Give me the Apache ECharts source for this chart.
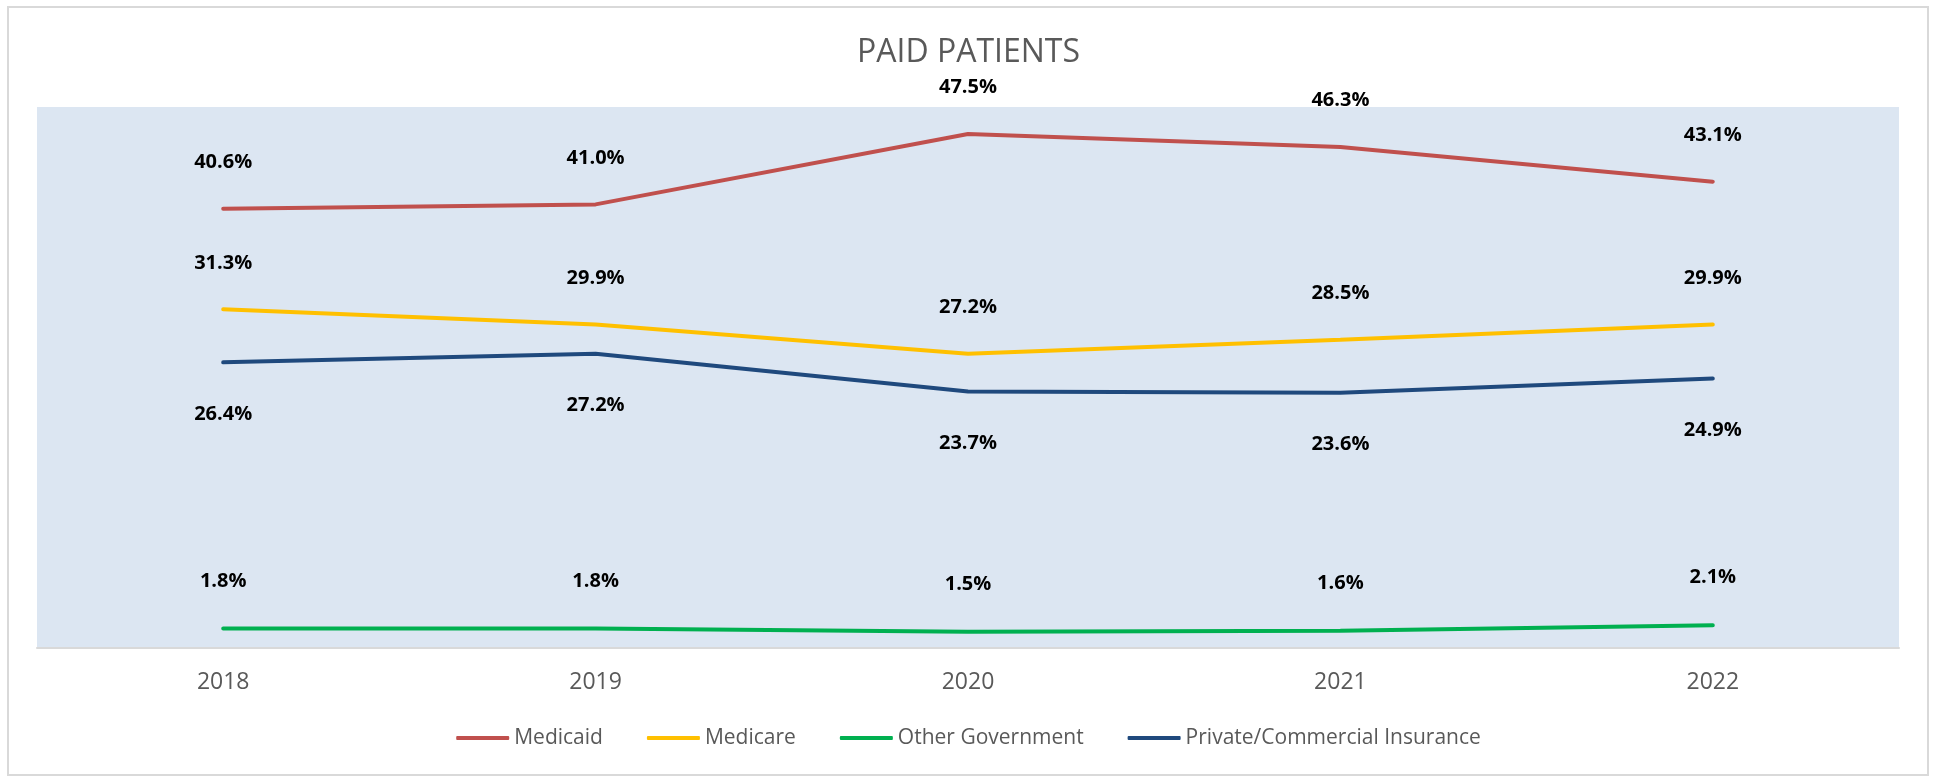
<!DOCTYPE html>
<html>
<head>
<meta charset="utf-8">
<script src="https://cdn.jsdelivr.net/npm/echarts@6/dist/echarts.min.js"></script>
<style>
  html, body { margin: 0; padding: 0; background: #fff; }
  #chart { width: 1937px; height: 777px; }
</style>
</head>
<body>
<div id="chart"></div>
<script>
const years = ["2018", "2019", "2020", "2021", "2022"];
const medicaid = [40.6, 41.0, 47.5, 46.3, 43.1];
const medicare = [31.3, 29.9, 27.2, 28.5, 29.9];
const otherGov = [1.8, 1.8, 1.5, 1.6, 2.1];
const privateIns = [26.4, 27.2, 23.7, 23.6, 24.9];

const font = "'Open Sans', 'Noto Sans', sans-serif";

const makeSeries = (name, data, color, labelPos, dist) => ({
  name: name,
  type: "line",
  data: data,
  symbol: "circle",
  symbolSize: 1,
  showSymbol: true,
  itemStyle: { color: color },
  lineStyle: { color: color, width: 4, cap: "round" },
  label: {
    show: true,
    position: labelPos,
    distance: dist,
    formatter: (p) => p.value.toFixed(1) + "%",
    color: "#000",
    fontFamily: font,
    fontWeight: "bold",
    fontSize: 20,
    lineHeight: 24,
  },
  emphasis: { disabled: true },
});

const chart = echarts.init(document.getElementById("chart"));
chart.setOption({
  animation: false,
  graphic: [
    {
      type: "rect",
      shape: { x: 8, y: 7, width: 1920, height: 768 },
      style: { fill: "none", stroke: "#D9D9D9", lineWidth: 2 },
      silent: true,
    },
  ],
  title: {
    text: "PAID PATIENTS",
    left: "center",
    top: 33,
    padding: 0,
    textStyle: {
      color: "#595959",
      fontFamily: font,
      fontWeight: "normal",
      fontSize: 32,
      lineHeight: 40,
    },
  },
  legend: {
    left: "center",
    top: 724,
    padding: 0,
    itemGap: 44,
    itemWidth: 53,
    itemHeight: 4,
    icon: "roundRect",
    textStyle: { color: "#595959", fontFamily: font, fontSize: 21, lineHeight: 28 },
  },
  grid: {
    left: 37,
    right: 38,
    top: 107,
    bottom: 129,
    show: true,
    backgroundColor: "#DCE6F2",
    borderWidth: 0,
  },
  xAxis: {
    type: "category",
    data: years,
    boundaryGap: true,
    axisLine: { show: true, lineStyle: { color: "#D9D9D9", width: 2 } },
    axisTick: { show: false },
    axisLabel: { color: "#595959", fontFamily: font, fontSize: 23, margin: 23 },
  },
  yAxis: {
    type: "value",
    min: 0,
    max: 50,
    show: false,
    splitLine: { show: false },
  },
  series: [
    makeSeries("Medicaid", medicaid, "#C0504D", "top", 34),
    makeSeries("Medicare", medicare, "#FFC000", "top", 34),
    makeSeries("Other Government", otherGov, "#00B050", "top", 35),
    makeSeries("Private/Commercial Insurance", privateIns, "#1F497D", "bottom", 39),
  ],
});
</script>
</body>
</html>
